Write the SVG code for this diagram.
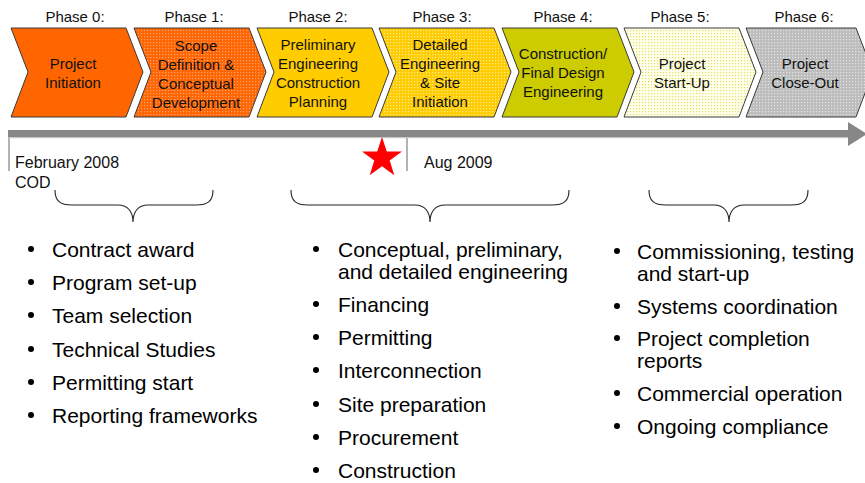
<svg xmlns="http://www.w3.org/2000/svg" width="865" height="483" viewBox="0 0 865 483">
  <style>
    .ph { font-family: "Liberation Sans", Arial, sans-serif; font-size: 15px; fill: #111; text-anchor: middle; }
    .lbl { font-family: "Liberation Sans", Arial, sans-serif; font-size: 15px; fill: #111; text-anchor: middle; }
    .chev { stroke: #3a3a3a; stroke-width: 1; }
    .date { font-family: "Liberation Sans", Arial, sans-serif; font-size: 16px; fill: #111; }
    .item { font-family: "Liberation Sans", Arial, sans-serif; font-size: 21px; fill: #000; }
    .brace { fill: none; stroke: #222; stroke-width: 1.1; }
    .tick { stroke: #b3b3b3; stroke-width: 2; }
  </style>
  <defs>
    <pattern id="dotOrange" width="3" height="3" patternUnits="userSpaceOnUse">
      <rect width="3" height="3" fill="#FF6600"/>
      <rect width="1.2" height="1.2" fill="#FFA070"/>
    </pattern>
    <pattern id="dotYellow" width="3" height="3" patternUnits="userSpaceOnUse">
      <rect width="3" height="3" fill="#FFCC00"/>
      <rect width="1.2" height="1.2" fill="#FFEA90"/>
    </pattern>
    <pattern id="dotPale" width="3" height="3" patternUnits="userSpaceOnUse">
      <rect width="3" height="3" fill="#FFFFEE"/>
      <rect width="1.2" height="1.2" fill="#E8E060"/>
    </pattern>
    <pattern id="dotGray" width="3" height="3" patternUnits="userSpaceOnUse">
      <rect width="3" height="3" fill="#BDBDBD"/>
      <rect width="1.2" height="1.2" fill="#E2E2E2"/>
    </pattern>
    <symbol id="bullet" overflow="visible"><circle cx="0" cy="0" r="3" fill="#000"/></symbol>
  </defs>
  <rect width="865" height="483" fill="#fff"/>

  <!-- Phase chevrons -->
  <g id="phase0">
    <text class="lbl" x="75" y="22">Phase 0:</text>
    <path class="chev" fill="#FF6600" d="M11,28 H126 L143,72 L126,117 H11 L28,72 Z"/>
    <text class="ph" x="73"><tspan x="73" y="69">Project</tspan><tspan x="73" y="88">Initiation</tspan></text>
  </g>
  <g id="phase1">
    <text class="lbl" x="194" y="22">Phase 1:</text>
    <path class="chev" fill="url(#dotOrange)" d="M134,28 H249 L266,72 L249,117 H134 L151,72 Z"/>
    <text class="ph"><tspan x="196" y="51">Scope</tspan><tspan x="196" y="70">Definition &amp;</tspan><tspan x="196" y="89">Conceptual</tspan><tspan x="196" y="108">Development</tspan></text>
  </g>
  <g id="phase2">
    <text class="lbl" x="318" y="22">Phase 2:</text>
    <path class="chev" fill="#FFCC00" d="M257,28 H372 L389,72 L372,117 H257 L274,72 Z"/>
    <text class="ph"><tspan x="318" y="50">Preliminary</tspan><tspan x="318" y="69">Engineering</tspan><tspan x="318" y="88">Construction</tspan><tspan x="318" y="107">Planning</tspan></text>
  </g>
  <g id="phase3">
    <text class="lbl" x="442" y="22">Phase 3:</text>
    <path class="chev" fill="url(#dotYellow)" d="M379,28 H494 L511,72 L494,117 H379 L396,72 Z"/>
    <text class="ph"><tspan x="440" y="50">Detailed</tspan><tspan x="440" y="69">Engineering</tspan><tspan x="440" y="88">&amp; Site</tspan><tspan x="440" y="107">Initiation</tspan></text>
  </g>
  <g id="phase4">
    <text class="lbl" x="563" y="22">Phase 4:</text>
    <path class="chev" fill="#CCCC00" d="M502,28 H617 L634,72 L617,117 H502 L519,72 Z"/>
    <text class="ph"><tspan x="563" y="59">Construction/</tspan><tspan x="563" y="78">Final Design</tspan><tspan x="563" y="97">Engineering</tspan></text>
  </g>
  <g id="phase5">
    <text class="lbl" x="680" y="22">Phase 5:</text>
    <path class="chev" fill="url(#dotPale)" d="M624,28 H739 L756,72 L739,117 H624 L641,72 Z"/>
    <text class="ph"><tspan x="682" y="69">Project</tspan><tspan x="682" y="88">Start-Up</tspan></text>
  </g>
  <g id="phase6">
    <text class="lbl" x="804" y="22">Phase 6:</text>
    <path class="chev" fill="url(#dotGray)" d="M746,28 H856 L873,72 L856,117 H746 L763,72 Z"/>
    <text class="ph"><tspan x="805" y="69">Project</tspan><tspan x="805" y="88">Close-Out</tspan></text>
  </g>

  <!-- Timeline, milestones and grouping braces -->
  <g id="connectors">
    <line class="tick" x1="9" y1="131" x2="9" y2="171"/>
    <line class="tick" x1="407" y1="131" x2="407" y2="171"/>
    <rect x="8" y="130" width="842" height="7" fill="#878787"/>
    <line x1="9" y1="137.6" x2="849" y2="137.6" stroke="#c9c9c9" stroke-width="1.2"/>
    <polygon points="848,122 867,134 848,146" fill="#878787"/>
    <path class="brace" d="M55,190 C55,201 60,205 72,205 L118,205 C128,205 133,212 133,222 C133,212 138,205 148,205 L196,205 C208,205 213,201 213,190"/>
    <path class="brace" d="M291,190 C291,201 296,205 308,205 L415,205 C425,205 430,212 430,222 C430,212 435,205 445,205 L552,205 C564,205 569,201 569,190"/>
    <path class="brace" d="M649,190 C649,201 654,205 666,205 L714,205 C724,205 729,212 729,222 C729,212 734,205 744,205 L791,205 C803,205 808,201 808,190"/>
  </g>

  <g id="milestone-star">
    <polygon fill="#FF0000" points="382,137 386.8,151.6 402,151.6 389.7,160.6 394.3,175.2 382,166.2 369.7,175.2 374.3,160.6 362,151.6 377.2,151.6"/>
  </g>

  <g id="dates">
    <text class="date" x="15" y="168">February 2008</text>
    <text class="date" x="15" y="188">COD</text>
    <text class="date" x="424" y="168">Aug 2009</text>
  </g>

  <!-- Activity lists -->
  <g id="list-early">
    <use href="#bullet" x="31" y="249"/><text class="item" x="52" y="257">Contract award</text>
    <use href="#bullet" x="31" y="282"/><text class="item" x="52" y="290">Program set-up</text>
    <use href="#bullet" x="31" y="315"/><text class="item" x="52" y="323">Team selection</text>
    <use href="#bullet" x="31" y="349"/><text class="item" x="52" y="357">Technical Studies</text>
    <use href="#bullet" x="31" y="382"/><text class="item" x="52" y="390">Permitting start</text>
    <use href="#bullet" x="31" y="415"/><text class="item" x="52" y="423">Reporting frameworks</text>
  </g>
  <g id="list-development">
    <use href="#bullet" x="316" y="249"/><text class="item" x="338" y="257">Conceptual, preliminary,</text>
    <text class="item" x="338" y="279">and detailed engineering</text>
    <use href="#bullet" x="316" y="304"/><text class="item" x="338" y="312">Financing</text>
    <use href="#bullet" x="316" y="337"/><text class="item" x="338" y="345">Permitting</text>
    <use href="#bullet" x="316" y="370"/><text class="item" x="338" y="378">Interconnection</text>
    <use href="#bullet" x="316" y="404"/><text class="item" x="338" y="412">Site preparation</text>
    <use href="#bullet" x="316" y="437"/><text class="item" x="338" y="445">Procurement</text>
    <use href="#bullet" x="316" y="470"/><text class="item" x="338" y="478">Construction</text>
  </g>
  <g id="list-operation">
    <use href="#bullet" x="617" y="251"/><text class="item" x="637" y="259">Commissioning, testing</text>
    <text class="item" x="637" y="281">and start-up</text>
    <use href="#bullet" x="617" y="306"/><text class="item" x="637" y="314">Systems coordination</text>
    <use href="#bullet" x="617" y="338"/><text class="item" x="637" y="346">Project completion</text>
    <text class="item" x="637" y="368">reports</text>
    <use href="#bullet" x="617" y="393"/><text class="item" x="637" y="401">Commercial operation</text>
    <use href="#bullet" x="617" y="426"/><text class="item" x="637" y="434">Ongoing compliance</text>
  </g>
</svg>
